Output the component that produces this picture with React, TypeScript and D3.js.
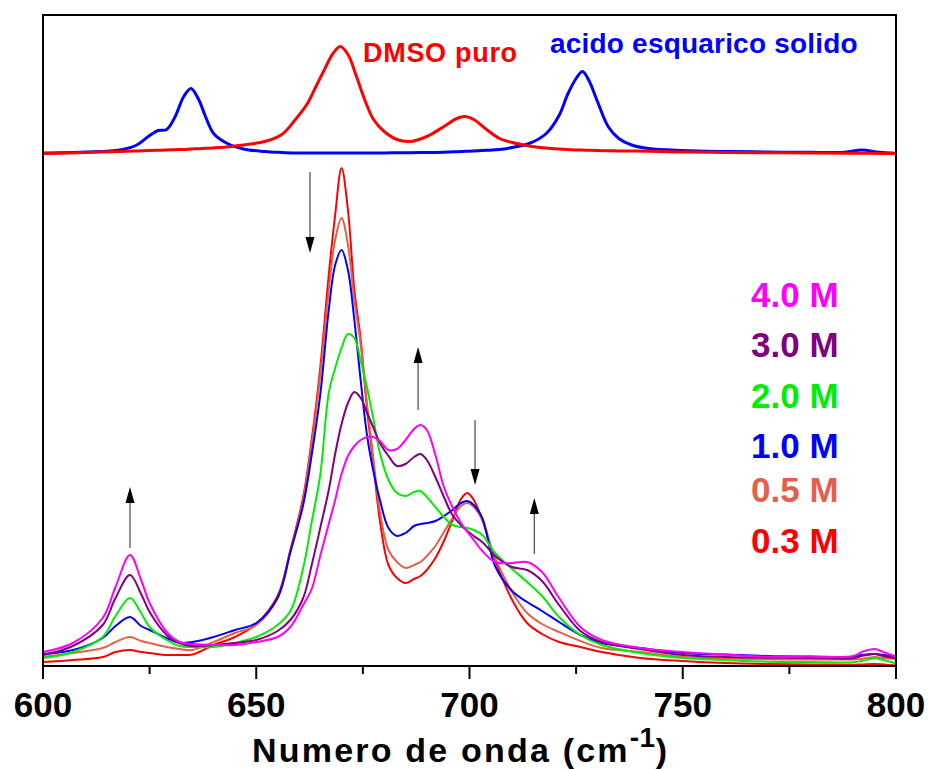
import React from "react";
import * as d3 from "d3";

// ---------- DATA ----------
const wavenumbers = [600, 607, 614, 617, 620.4, 623, 625, 629, 632, 635, 640, 645, 650, 655, 658, 661, 663, 665, 667, 668.5, 670, 671.5, 673, 674.5, 676, 677.5, 679, 681, 683, 685, 687, 688.5, 690, 692, 694, 696, 698, 699.5, 701, 703, 706, 710, 713.5, 717, 721, 726, 731, 740, 750, 760, 770, 780, 790, 792, 795, 797, 800];

const series03 = [4, 6, 9, 14, 16, 14, 13, 11, 11, 11.5, 21, 29, 42, 70, 116, 169, 226, 298, 391, 451, 498, 456, 376, 326, 256, 201, 145, 101, 88, 83, 87, 90, 96, 108, 125, 146, 167, 173, 166, 146, 106, 66, 43, 32, 24, 19, 14, 8, 5, 3, 2, 1.5, 1.3, 1.5, 2, 1.5, 0.5];
const series05 = [9, 13, 18, 24, 29, 25, 23, 19, 17, 16, 24, 33, 41, 68, 114, 166, 221, 291, 376, 426, 448, 421, 366, 321, 261, 206, 154, 116, 104, 98, 101, 104, 110, 120, 134, 148, 160, 163, 159, 146, 108, 74, 53, 42, 34, 25, 18, 14, 9, 7.5, 6.7, 6.5, 6.5, 7, 9, 8, 7];
const series10 = [12, 16, 28, 40, 49, 40, 36, 28, 23, 24, 29, 36, 43, 68, 114, 161, 211, 271, 356, 401, 416, 396, 346, 285, 230, 194, 166, 138, 130, 133, 140, 142, 143, 145, 150, 156, 163, 165, 161, 148, 100, 75, 64, 55, 44, 31, 23, 18, 13, 11.5, 10, 9.5, 9.3, 11, 12, 11, 10];
const series20 = [8, 14, 29, 50, 68, 53, 39, 26, 20, 19, 19, 23, 29, 41, 55, 98, 144, 191, 273, 298, 318, 332, 328, 305, 278, 246, 213, 186, 173, 170, 174, 175, 169, 159, 149, 141, 139, 138, 136, 131, 113, 97, 84, 70, 49, 31, 21, 13, 8, 6, 4.3, 4, 3.7, 5, 7.7, 6, 2.7];
const series30 = [11, 20, 41, 68, 91, 72, 54, 31, 23, 20, 21, 23, 26, 35, 46, 68, 101, 138, 176, 212, 242, 263, 274, 268, 253, 238, 223, 210, 200, 202, 209, 212, 206, 189, 169, 151, 141, 135, 130, 124, 110, 99, 96, 85, 61, 35, 24, 17, 11, 9, 8.3, 8, 7.7, 10, 12, 10, 8];
const series40 = [14, 23, 48, 79, 111, 86, 63, 34, 24, 22, 21, 21, 24, 29, 39, 61, 77, 110, 142, 166, 192, 210, 220, 226, 229, 229, 225, 216, 217, 226, 237, 241, 236, 211, 179, 159, 143, 134, 126, 115, 104, 103, 104, 94, 68, 39, 26, 18, 14, 11.5, 9.3, 9.3, 10, 14, 17, 14, 9.3];

const concentrationLabels = ["4.0 M", "3.0 M", "2.0 M", "1.0 M", "0.5 M", "0.3 M"];
const concentrationSeries = [series40, series30, series20, series10, series05, series03];
const concentrationColors = ["#ff00ff", "#800080", "#00ee00", "#0000ff", "#e5604a", "#ff0000"];

const topWavenumbers = [600, 610, 618, 622, 625, 627, 629, 631, 633, 634.7, 636.5, 638, 640, 643, 647, 652, 656, 659, 662, 664, 666, 668, 669.7, 671.5, 673.5, 675.5, 677.5, 680, 683, 686, 690, 694, 697, 699, 701, 704, 707, 710, 714, 718, 721, 723, 725, 726.5, 728, 730, 732.5, 735, 738, 742, 750, 760, 770, 780, 788, 792, 796, 800];
const acidoSolido = [0.5, 1.5, 3.5, 8.5, 18, 23, 24, 37, 57, 65, 54, 38, 20, 10.5, 4.5, 2, 1, 0.5, 0.5, 0.5, 0.5, 0.5, 0.5, 0.5, 0.5, 0.5, 0.5, 0.5, 0.7, 0.8, 1, 1.3, 1.8, 2.2, 2.6, 3.2, 4, 6, 10, 20, 38, 59, 75, 82, 73, 52, 27, 15, 8.5, 5, 3, 2, 1.5, 1.2, 1.2, 3.5, 1.2, 0.3];
const dmsoPuro = [0, 1, 2, 2.5, 3, 3.2, 3.5, 3.8, 4.1, 4.5, 4.8, 5.2, 5.6, 6.5, 8.5, 12, 19, 33, 50, 67, 84, 100, 107, 99, 77, 53, 34, 22, 14, 12, 17, 27, 35, 37, 34, 24, 15, 11, 7.5, 5.5, 4.5, 4, 3.6, 3.4, 3.2, 3, 2.8, 2.6, 2.4, 2.2, 1.5, 1, 0.8, 0.5, 0.3, 0.2, 0.1, 0];

const majorTicks = [600, 650, 700, 750, 800];
const minorTicks = [625, 675, 725, 775];

// arrows: wavenumber, tail intensity, tip intensity
const arrowX = [662.6, 687.95, 701.3, 715.2, 620.4];
const arrowFrom = [494, 256, 246, 112, 118];
const arrowTo = [413, 319, 181, 168, 179];

// ---------- LAYOUT ----------
const W = 928;
const H = 769;
const left = 43;
const right = 896;
const top = 15;
const bottom = 666;
const FONT = "'Liberation Sans', Arial, Helvetica, sans-serif";

export default function App() {
  const x = d3.scaleLinear().domain([600, 800]).range([left, right]);
  const yLow = d3.scaleLinear().domain([0, 500]).range([bottom, 166]);
  const yTop = d3.scaleLinear().domain([0, 100]).range([153.5, 53.5]);

  const lowLine = d3
    .line<number>()
    .x((_, i) => x(wavenumbers[i]))
    .y((d) => yLow(d))
    .curve(d3.curveCatmullRom.alpha(0.5));
  const topLine = d3
    .line<number>()
    .x((_, i) => x(topWavenumbers[i]))
    .y((d) => yTop(d))
    .curve(d3.curveCatmullRom.alpha(0.5));

  const drawOrder = [5, 4, 3, 2, 1, 0];
  const legendY = [307, 357, 408, 458, 502, 553];

  return (
    <svg
      width={W}
      height={H}
      viewBox={`0 0 ${W} ${H}`}
      style={{ position: "absolute", left: 0, top: 0, background: "#fff" }}
    >
      <rect x={0} y={0} width={W} height={H} fill="#fff" />

      {/* top panel */}
      <path d={topLine(acidoSolido) || ""} fill="none" stroke="#0000ff" strokeWidth={3} strokeLinejoin="round" />
      <path d={topLine(dmsoPuro) || ""} fill="none" stroke="#ff0000" strokeWidth={3} strokeLinejoin="round" />
      <text x={363} y={61.7} fontFamily={FONT} fontWeight="bold" fontSize={27} letterSpacing={0.7} fill="#ff0000">
        DMSO puro
      </text>
      <text x={550} y={53.3} fontFamily={FONT} fontWeight="bold" fontSize={28} letterSpacing={0.2} fill="#0000ff">
        acido esquarico solido
      </text>

      {/* lower panel */}
      {drawOrder.map((i) => (
        <path
          key={concentrationLabels[i]}
          d={lowLine(concentrationSeries[i]) || ""}
          fill="none"
          stroke={concentrationColors[i]}
          strokeWidth={2}
          strokeLinejoin="round"
        />
      ))}

      {/* arrows */}
      {arrowX.map((ax, i) => {
        const px = x(ax);
        const y0 = yLow(arrowFrom[i]);
        const y1 = yLow(arrowTo[i]);
        const dir = y1 > y0 ? 1 : -1;
        const headLen = 16;
        const headW = 4.5;
        return (
          <g key={i}>
            <line x1={px} y1={y0} x2={px} y2={y1 - dir * headLen} stroke="#555" strokeWidth={1.3} />
            <path
              d={`M${px - headW},${y1 - dir * headLen} L${px + headW},${y1 - dir * headLen} L${px},${y1} Z`}
              fill="#000"
            />
          </g>
        );
      })}

      {/* legend */}
      {concentrationLabels.map((lab, i) => (
        <text
          key={lab}
          x={751}
          y={legendY[i]}
          fontFamily={FONT}
          fontWeight="bold"
          fontSize={35}
          fill={concentrationColors[i]}
        >
          {lab}
        </text>
      ))}

      {/* frame */}
      <rect x={left} y={top} width={right - left} height={bottom - top} fill="none" stroke="#000" strokeWidth={2} />

      {/* ticks */}
      {majorTicks.map((t) => (
        <g key={t}>
          <line x1={x(t)} x2={x(t)} y1={bottom} y2={bottom + 13} stroke="#000" strokeWidth={2} />
          <text x={x(t)} y={717} textAnchor="middle" fontFamily={FONT} fontWeight="bold" fontSize={35} fill="#000">
            {t}
          </text>
        </g>
      ))}
      {minorTicks.map((t) => (
        <line key={t} x1={x(t)} x2={x(t)} y1={bottom} y2={bottom + 8} stroke="#000" strokeWidth={2} />
      ))}

      {/* x title */}
      <text x={252} y={762} fontFamily={FONT} fontWeight="bold" fontSize={34} letterSpacing={2.2} fill="#000">
        Numero de onda (cm
        <tspan dy={-15} fontSize={28} letterSpacing={0.5}>-1</tspan>
        <tspan dy={15}>)</tspan>
      </text>
    </svg>
  );
}
